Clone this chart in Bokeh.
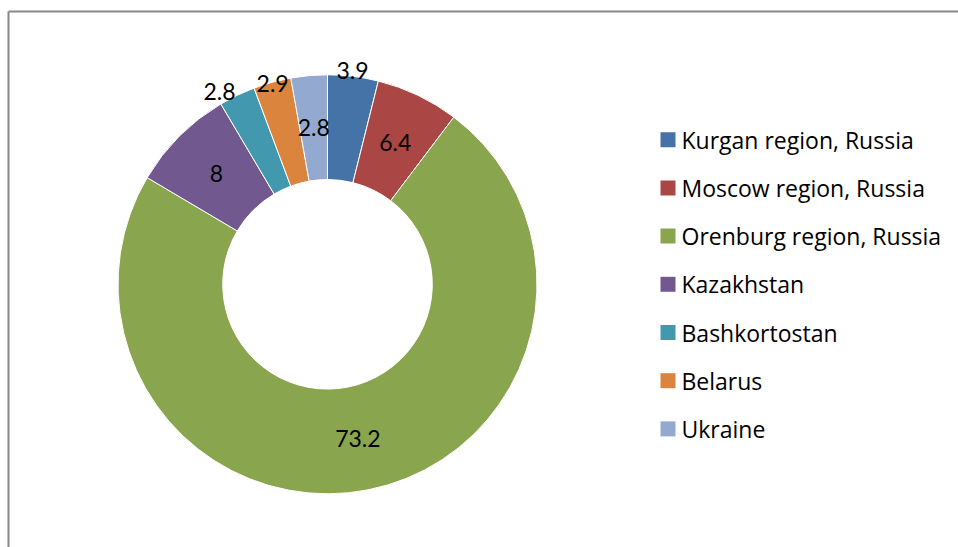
import math
from bokeh.plotting import figure
from bokeh.models import Range1d, ColumnDataSource
from bokeh.core.properties import value
from bokeh.embed import file_html
from bokeh.resources import INLINE

# ---- data ----
categories = ["Kurgan region, Russia", "Moscow region, Russia", "Orenburg region, Russia",
              " Kazakhstan", "Bashkortostan", "Belarus", "Ukraine"]
shares = [3.9, 6.4, 73.2, 8, 2.8, 2.9, 2.8]
labels = ["3.9", "6.4", "73.2", "8", "2.8", "2.9", "2.8"]
colors = ["#4572A7", "#AA4643", "#89A54E", "#71588F", "#4198AF", "#DB843D", "#93A9CF"]

# ---- layout (page pixels) ----
W, H = 958, 547
def X(px): return px
def Y(py): return H - py

CX, CY = 327, 283.8
R_OUT, R_IN = 209.5, 104.8
label_r = [215, 157, 157, 157, 221, 208, 157]
label_dang = [-0.35, 0, 0, 0, -3.7, 0, 0]  # degrees

total = sum(shares)
starts, ends, lx, ly = [], [], [], []
cum = 0.0
for i, s in enumerate(shares):
    a0 = math.pi / 2 - 2 * math.pi * (cum + s) / total
    a1 = math.pi / 2 - 2 * math.pi * cum / total
    starts.append(a0)
    ends.append(a1)
    mid_cw = 360.0 * (cum + s / 2) / total + label_dang[i]
    t = math.radians(mid_cw)
    lx.append(X(CX + label_r[i] * math.sin(t)))
    ly.append(Y(CY - label_r[i] * math.cos(t)))
    cum += s

src = ColumnDataSource(dict(cat=categories, share=shares, start=starts, end=ends,
                            color=colors, lx=lx, ly=ly, lab=labels))

p = figure(width=W, height=H, output_backend="svg", toolbar_location=None,
           x_range=Range1d(0, W), y_range=Range1d(0, H), min_border=0)
p.axis.visible = False
p.grid.visible = False
p.outline_line_color = None
p.background_fill_color = "white"
p.border_fill_color = "white"

# chart area border (gray, clipped on right/bottom by the window)
p.segment(x0=[X(8), X(8)], y0=[Y(11), Y(11)], x1=[X(8), W + 5], y1=[-5, Y(11)],
          line_color="#888888", line_width=2)

p.annular_wedge(x=X(CX), y=Y(CY), inner_radius=R_IN, outer_radius=R_OUT,
                inner_radius_units="screen", outer_radius_units="screen",
                start_angle="start", end_angle="end", direction="anticlock",
                fill_color="color", line_color="white", line_width=1, source=src)

p.text(x="lx", y="ly", text="lab", source=src, text_align="center", text_baseline="middle",
       text_font=value("Lato"), text_font_size="23px", text_color="black")

# legend
LEG_X, LEG_Y0, LEG_DY = 667.5, 139.2, 48.2
leg = ColumnDataSource(dict(
    x=[X(LEG_X)] * len(categories),
    y=[Y(LEG_Y0 + i * LEG_DY) for i in range(len(categories))],
    tx=[X(LEG_X + 13.5)] * len(categories),
    cat=categories, color=colors))
p.rect(x="x", y="y", width=15, height=15, width_units="screen", height_units="screen",
       fill_color="color", line_color=None, source=leg)
p.text(x="tx", y="y", text="cat", source=leg, text_align="left", text_baseline="middle",
       text_font=value("Open Sans"), text_font_size="23px", text_color="black")

open("out.html", "w").write(file_html(p, INLINE))
